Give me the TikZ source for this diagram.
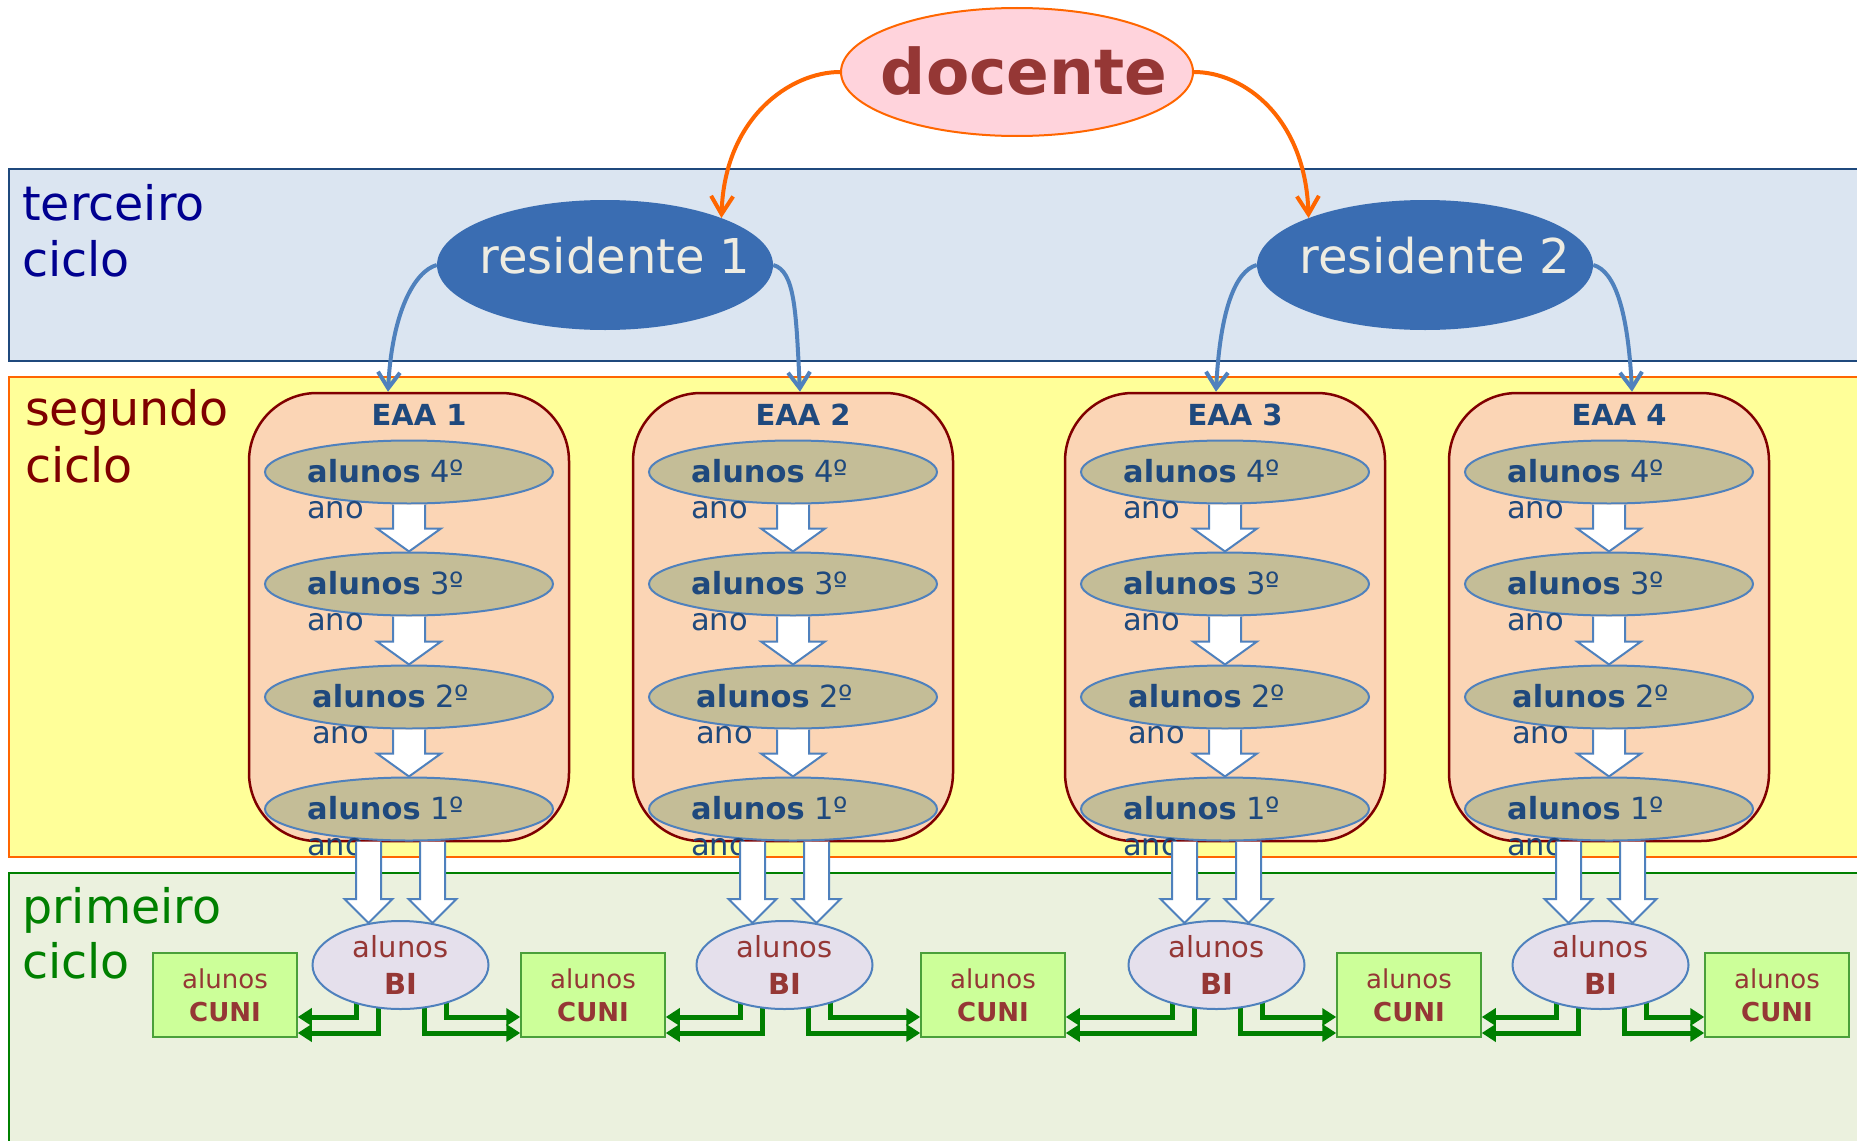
\documentclass[tikz,border=0pt]{standalone}
\usepackage{fontspec}
\setmainfont{DejaVu Sans}
\usetikzlibrary{arrows.meta,shapes.geometric,calc}
\definecolor{terfill}{HTML}{DBE5F1}
\definecolor{terline}{HTML}{1F497D}
\definecolor{segfill}{HTML}{FFFF99}
\definecolor{segline}{HTML}{FF6600}
\definecolor{prifill}{HTML}{EBF1DE}
\definecolor{priline}{HTML}{008000}
\definecolor{eaafill}{HTML}{FBD5B5}
\definecolor{eaaline}{HTML}{800000}
\definecolor{alufill}{HTML}{C4BD97}
\definecolor{acc}{HTML}{4F81BD}
\definecolor{navytxt}{HTML}{1F497D}
\definecolor{bifill}{HTML}{E5E0EC}
\definecolor{redtxt}{HTML}{953735}
\definecolor{cunifill}{HTML}{CCFF99}
\definecolor{cuniline}{HTML}{4AA03A}
\definecolor{docfill}{HTML}{FFD3DC}
\definecolor{orng}{HTML}{FF6600}
\definecolor{resfill}{HTML}{3A6DB2}
\definecolor{restxt}{HTML}{EEECE1}
\definecolor{lblthree}{HTML}{000090}
\definecolor{lbltwo}{HTML}{7F0000}
\definecolor{lblone}{HTML}{008000}
\pgfdeclarelayer{bg}
\pgfdeclarelayer{mid}
\pgfsetlayers{bg,mid,main}
\begin{document}
\begin{tikzpicture}[x=1pt,y=-1pt,
  bandlbl/.style={inner sep=0pt, anchor=base west, font=\fontsize{47.5}{56}\selectfont},
  eaabox/.style={draw=eaaline, fill=eaafill, line width=2.5pt, rounded corners=68pt,
    minimum width=320pt, minimum height=448pt, inner sep=0pt},
  eaatitle/.style={inner sep=0pt, anchor=base, text=navytxt, font=\bfseries\fontsize{29}{35}\selectfont},
  aluell/.style={ellipse, draw=acc, fill=alufill, line width=2pt, minimum width=288pt,
    minimum height=63pt, inner sep=0pt},
  alutxt/.style={inner sep=0pt, anchor=base west, text=navytxt, font=\fontsize{30.5}{36}\selectfont},
  blk/.style={draw=acc, fill=white, line width=2pt, line join=miter},
  biell/.style={ellipse, draw=acc, fill=bifill, line width=2pt, minimum width=176pt,
    minimum height=88pt, inner sep=0pt, text=redtxt, align=center, font=\fontsize{29}{37}\selectfont},
  cunibox/.style={draw=cuniline, fill=cunifill, line width=1.5pt, minimum width=144pt,
    minimum height=84pt, inner sep=0pt, text=redtxt, align=center, font=\fontsize{26}{33}\selectfont},
  grn/.style={draw=priline, line width=5pt, -{Triangle[length=14pt,width=17pt]}},
  resarrow/.style={draw=acc, line width=4pt, -{Straight Barb[length=16pt,width=22pt]}},
  docarrow/.style={draw=orng, line width=4pt, -{Straight Barb[length=18pt,width=22pt]}},
  resell/.style={ellipse, minimum width=336pt, minimum height=130pt, inner sep=0pt, fill=resfill},
  restext/.style={inner sep=0pt, anchor=base, text=restxt, font=\fontsize{48}{56}\selectfont}
]
\useasboundingbox (0,0) rectangle (1857,1140);
% bands
\begin{pgfonlayer}{bg}
\fill[white] (0,0) rectangle (1857,1140);
\draw[terline, fill=terfill, line width=2.5pt] (9,169) rectangle (1895,361);
\draw[segline, fill=segfill, line width=2.5pt] (9,377) rectangle (1895,857);
\draw[priline, fill=prifill, line width=2pt] (9,873) rectangle (1895,1175);
\end{pgfonlayer}
\node[bandlbl, text=lblthree] (l3a) at (22,220) {terceiro};
\node[bandlbl, text=lblthree] (l3b) at (22,276) {ciclo};
\node[bandlbl, text=lbltwo] (l2a) at (25,425) {segundo};
\node[bandlbl, text=lbltwo] (l2b) at (25,482) {ciclo};
\node[bandlbl, text=lblone] (l1a) at (22,923) {primeiro};
\node[bandlbl, text=lblone] (l1b) at (22,978) {ciclo};
% top nodes
\node[ellipse, draw=orng, fill=docfill, line width=2pt, minimum width=352pt, minimum height=128pt,
  inner sep=0pt] (doc) at (1017,72) {};
\node[inner sep=0pt, anchor=base, text=redtxt, font=\bfseries\fontsize{63}{70}\selectfont] (doct) at (1024,94) {docente};
\node[resell] (r1) at (605,265) {};
\node[restext] (r1t) at (615,273) {residente 1};
\node[resell] (r2) at (1425,265) {};
\node[restext] (r2t) at (1435,273) {residente 2};
% CUNI boxes
\foreach \ci/\ccx in {0/225,1/593,2/993,3/1409,4/1777}{
  \node[cunibox] (cuni\ci) at (\ccx,995) {alunos\\\textbf{CUNI}};
}
% EAA columns
\foreach \ei/\cx in {1/409,2/793,3/1225,4/1609}{
  \node[eaabox] (eaa\ei) at (\cx,617) {};
  \node[eaatitle] (eaat\ei) at (\cx+10,425) {EAA \ei};
  \foreach \yr/\yy/\dx in {4/472/0,3/584/0,2/697/5,1/809/0}{
    \node[aluell] (e\ei\yr) at (\cx,\yy) {};
    \node[alutxt] (ta\ei\yr) at (\cx-102+\dx,\yy+10) {\textbf{alunos} \yr º};
    \node[alutxt] (tb\ei\yr) at (\cx-102+\dx,\yy+46) {ano};
  }
  \foreach \ua/\ub in {4/3,3/2,2/1}{
    \draw[blk] ($(e\ei\ua.south)+(-16,0)$) -- ($(e\ei\ub.north)+(-16,-23)$) -- ++(-16,0)
      -- (e\ei\ub.north) -- ++(32,-23) -- ++(-16,0) -- ($(e\ei\ua.south)+(16,0)$);
  }
  \node[biell] (bi\ei) at (\cx-8.5,965) {alunos\\\textbf{BI}};
  \foreach \sd in {-32,32}{
    \draw[blk] ($(e\ei1.south)+(\sd-21,0)$) -- ($(bi\ei.north)+(\sd-12.5,-21)$) -- ++(-11.5,0)
      -- ($(bi\ei.north)+(\sd,3)$) -- ++(24,-24) -- ++(-11.5,0) -- ($(e\ei1.south)+(\sd+4,0)$);
  }
}
% green connectors
\begin{pgfonlayer}{mid}
\foreach \ei/\lc/\rc in {1/0/1,2/1/2,3/2/3,4/3/4}{
  \draw[grn] ($(bi\ei.center)+(-44,30)$) |- ($(cuni\lc.east)+(0,22)$);
  \draw[grn] ($(bi\ei.center)+(-22,30)$) |- ($(cuni\lc.east)+(0,38)$);
  \draw[grn] ($(bi\ei.center)+(46,30)$) |- ($(cuni\rc.west)+(0,22)$);
  \draw[grn] ($(bi\ei.center)+(24,30)$) |- ($(cuni\rc.west)+(0,38)$);
}
\end{pgfonlayer}
% curved arrows
\draw[docarrow] (doc.west) .. controls +(-50,0) and +(3,-100) .. (r1.22);
\draw[docarrow] (doc.east) .. controls +(50,0) and +(-3,-100) .. (r2.158);
\draw[resarrow] (r1.west) .. controls +(-22,6) and +(4,-80) .. ($(eaa1.north)+(-21,0)$);
\draw[resarrow] (r1.east) .. controls +(22,6) and +(-4,-80) .. ($(eaa2.north)+(7,0)$);
\draw[resarrow] (r2.west) .. controls +(-22,6) and +(4,-80) .. ($(eaa3.north)+(-9,0)$);
\draw[resarrow] (r2.east) .. controls +(22,6) and +(-4,-80) .. ($(eaa4.north)+(23,0)$);
\end{tikzpicture}
\end{document}
